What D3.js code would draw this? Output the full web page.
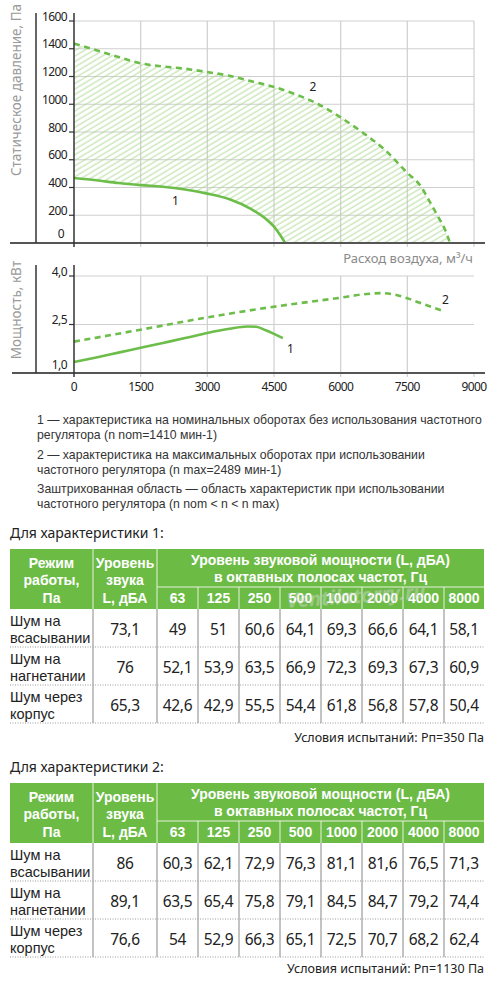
<!DOCTYPE html>
<html>
<head>
<meta charset="utf-8">
<script src="https://cdn.jsdelivr.net/npm/d3@7"></script>
<style>
  body { margin: 0; background: #fff; }
  svg { display: block; font-family: "Noto Sans", "Open Sans", sans-serif; }
</style>
</head>
<body>
<script>
// --- data ---
const flowTicks = [0, 1500, 3000, 4500, 6000, 7500, 9000];
const pressureTicks = [0, 200, 400, 600, 800, 1000, 1200, 1400, 1600];
const powerTicks = [1.0, 2.5, 4.0];

// [flow m3/h, static pressure Pa]
const pressureNominal = [[0, 468], [500, 452], [1000, 432], [1500, 417], [2000, 405], [2500, 385],
  [3000, 356], [3500, 315], [4000, 242], [4300, 178], [4500, 118], [4650, 52], [4750, 0]];
const pressureMax = [[0, 1437], [500, 1390], [1000, 1340], [1500, 1295], [2000, 1272], [2500, 1256],
  [3000, 1232], [3500, 1205], [4000, 1165], [4500, 1125], [5000, 1070], [5500, 1000], [6000, 905],
  [6500, 795], [7000, 670], [7500, 505], [7800, 410], [8000, 300], [8200, 185], [8350, 95], [8460, 0]];

// [flow m3/h, power kW]
const powerNominal = [[0, 1.34], [500, 1.48], [1000, 1.63], [1500, 1.78], [2000, 1.93], [2500, 2.08],
  [3000, 2.24], [3500, 2.37], [3900, 2.44], [4100, 2.43], [4300, 2.33], [4500, 2.21], [4700, 2.08]];
const powerMax = [[0, 1.97], [1500, 2.34], [3000, 2.72], [4500, 3.05], [6000, 3.33], [6500, 3.43],
  [6900, 3.47], [7200, 3.43], [7500, 3.31], [7900, 3.11], [8300, 2.92]];

const legendLines = [
  "1 — характеристика на номинальных оборотах без использования частотного",
  "регулятора (n nom=1410 мин-1)",
  "2 — характеристика на максимальных оборотах при использовании",
  "частотного регулятора (n max=2489 мин-1)",
  "Заштрихованная область — область характеристик при использовании",
  "частотного регулятора (n nom < n < n max)"
];

const octaveBands = ["63", "125", "250", "500", "1000", "2000", "4000", "8000"];
const noiseModes = [["Шум на", "всасывании"], ["Шум на", "нагнетании"], ["Шум через", "корпус"]];

const table1Total = [73.1, 76, 65.3];
const table1Bands = [
  [49, 51, 60.6, 64.1, 69.3, 66.6, 64.1, 58.1],
  [52.1, 53.9, 63.5, 66.9, 72.3, 69.3, 67.3, 60.9],
  [42.6, 42.9, 55.5, 54.4, 61.8, 56.8, 57.8, 50.4]
];
const table2Total = [86, 89.1, 76.6];
const table2Bands = [
  [60.3, 62.1, 72.9, 76.3, 81.1, 81.6, 76.5, 71.3],
  [63.5, 65.4, 75.8, 79.1, 84.5, 84.7, 79.2, 74.4],
  [54, 52.9, 66.3, 65.1, 72.5, 70.7, 68.2, 62.4]
];

// --- layout ---
const W = 500, H = 986;
const green = "#6cbb45";
const lineGreen = "#6dbd4a";
const gridColor = "#cfcfcf";
const axisColor = "#555";
const tightFont = "'Liberation Sans', Arial, sans-serif";

const svg = d3.select("body").append("svg")
  .attr("width", W)
  .attr("height", H);

const defs = svg.append("defs");
defs.append("pattern")
  .attr("id", "hatch")
  .attr("patternUnits", "userSpaceOnUse")
  .attr("width", 10)
  .attr("height", 4.7)
  .attr("patternTransform", "rotate(-31)")
  .append("line")
  .attr("x1", 0).attr("y1", 2)
  .attr("x2", 10).attr("y2", 2)
  .attr("stroke", "#a9d78f")
  .attr("stroke-width", 0.9);

const x = d3.scaleLinear().domain([0, 9000]).range([74, 474]);
const yP = d3.scaleLinear().domain([0, 1600]).range([243, 21]);
const yN = d3.scaleLinear().domain([1, 4]).range([373, 276]);

const fmt = v => String(v).replace(".", ",");

// ---------- pressure chart ----------
const pChart = svg.append("g");

pChart.selectAll(".hgrid")
  .data(pressureTicks.filter(d => d > 0))
  .enter().append("line")
  .attr("x1", x(0)).attr("x2", x(9000))
  .attr("y1", d => yP(d)).attr("y2", d => yP(d))
  .attr("stroke", gridColor).attr("stroke-width", 1.2);

pChart.selectAll(".vgrid")
  .data(flowTicks.filter(d => d > 0))
  .enter().append("line")
  .attr("x1", d => x(d)).attr("x2", d => x(d))
  .attr("y1", yP(1600)).attr("y2", yP(0) + 4)
  .attr("stroke", gridColor).attr("stroke-width", 1.2);

// hatched region between the two curves
const lower = pressureNominal.concat([[8460, 0]]);
const areaPts = pressureMax.map(d => [x(d[0]), yP(d[1])])
  .concat(lower.slice().reverse().map(d => [x(d[0]), yP(d[1])]));
pChart.append("path")
  .attr("d", "M" + areaPts.join("L") + "Z")
  .attr("fill", "url(#hatch)");

const lineP = d3.line().x(d => x(d[0])).y(d => yP(d[1])).curve(d3.curveMonotoneX);

pChart.append("path")
  .attr("d", lineP(pressureMax))
  .attr("fill", "none")
  .attr("stroke", lineGreen)
  .attr("stroke-width", 2.6)
  .attr("stroke-dasharray", "6,4.5");

pChart.append("path")
  .attr("d", lineP(pressureNominal))
  .attr("fill", "none")
  .attr("stroke", lineGreen)
  .attr("stroke-width", 2.6);

// axes
pChart.append("line")
  .attr("x1", 10).attr("x2", 485)
  .attr("y1", yP(0)).attr("y2", yP(0))
  .attr("stroke", axisColor).attr("stroke-width", 2);
pChart.append("line")
  .attr("x1", 36).attr("x2", 36)
  .attr("y1", 13).attr("y2", yP(0))
  .attr("stroke", "#333").attr("stroke-width", 1.5);
pChart.append("line")
  .attr("x1", x(0)).attr("x2", x(0))
  .attr("y1", 13).attr("y2", yP(0) + 4)
  .attr("stroke", "#333").attr("stroke-width", 1.5);

pChart.selectAll(".ptick")
  .data(pressureTicks.filter(d => d > 0))
  .enter().append("line")
  .attr("x1", x(0) - 5).attr("x2", x(0))
  .attr("y1", d => yP(d)).attr("y2", d => yP(d))
  .attr("stroke", "#333").attr("stroke-width", 1.2);

pChart.selectAll(".plabel")
  .data(pressureTicks)
  .enter().append("text")
  .attr("x", d => d === 0 ? 64 : 67)
  .attr("y", d => yP(d) - (d === 0 ? 5 : 0.5))
  .attr("text-anchor", "end")
  .attr("font-size", 12)
  .attr("letter-spacing", -0.6)
  .attr("fill", "#222")
  .text(d => d);

pChart.append("text")
  .attr("transform", "translate(21,90) rotate(-90)")
  .attr("text-anchor", "middle")
  .attr("font-size", 13.5)
  .attr("fill", "#9a9a9a")
  .text("Статическое давление, Па");

pChart.append("text")
  .attr("x", 172).attr("y", 205)
  .attr("font-size", 12).attr("fill", "#222")
  .text("1");
pChart.append("text")
  .attr("x", 313).attr("y", 91)
  .attr("font-size", 12).attr("fill", "#222")
  .attr("text-anchor", "middle")
  .text("2");

pChart.append("text")
  .attr("x", 473).attr("y", 263)
  .attr("text-anchor", "end")
  .attr("font-size", 13)
  .attr("fill", "#8a8a8a")
  .text("Расход воздуха, м³/ч");

// ---------- power chart ----------
const nChart = svg.append("g");

nChart.selectAll(".hgrid")
  .data(powerTicks.filter(d => d > 1))
  .enter().append("line")
  .attr("x1", x(0)).attr("x2", x(9000))
  .attr("y1", d => yN(d)).attr("y2", d => yN(d))
  .attr("stroke", gridColor).attr("stroke-width", 1.2);

nChart.selectAll(".vgrid")
  .data(flowTicks.filter(d => d > 0 && d < 9000))
  .enter().append("line")
  .attr("x1", d => x(d)).attr("x2", d => x(d))
  .attr("y1", yN(4)).attr("y2", yN(1) + 4)
  .attr("stroke", gridColor).attr("stroke-width", 1.2);

nChart.append("line")
  .attr("x1", x(9000)).attr("x2", x(9000))
  .attr("y1", yN(1)).attr("y2", yN(1) + 4)
  .attr("stroke", gridColor).attr("stroke-width", 1.2);

const lineN = d3.line().x(d => x(d[0])).y(d => yN(d[1])).curve(d3.curveMonotoneX);

nChart.append("path")
  .attr("d", lineN(powerMax))
  .attr("fill", "none")
  .attr("stroke", lineGreen)
  .attr("stroke-width", 2.6)
  .attr("stroke-dasharray", "6,4.5");

nChart.append("path")
  .attr("d", lineN(powerNominal))
  .attr("fill", "none")
  .attr("stroke", lineGreen)
  .attr("stroke-width", 2.6);

nChart.append("line")
  .attr("x1", 12).attr("x2", 485)
  .attr("y1", yN(1)).attr("y2", yN(1))
  .attr("stroke", axisColor).attr("stroke-width", 2);
nChart.append("line")
  .attr("x1", 36).attr("x2", 36)
  .attr("y1", 265).attr("y2", yN(1))
  .attr("stroke", "#333").attr("stroke-width", 1.5);
nChart.append("line")
  .attr("x1", x(0)).attr("x2", x(0))
  .attr("y1", 265).attr("y2", yN(1) + 4)
  .attr("stroke", "#333").attr("stroke-width", 1.5);

nChart.selectAll(".ntick")
  .data(powerTicks.filter(d => d > 1))
  .enter().append("line")
  .attr("x1", x(0) - 5).attr("x2", x(0))
  .attr("y1", d => yN(d)).attr("y2", d => yN(d))
  .attr("stroke", "#333").attr("stroke-width", 1.2);

nChart.selectAll(".nlabel")
  .data(powerTicks)
  .enter().append("text")
  .attr("x", 67)
  .attr("y", d => yN(d) - (d === 1 ? 4 : 0.5))
  .attr("text-anchor", "end")
  .attr("font-size", 12)
  .attr("letter-spacing", -0.6)
  .attr("fill", "#222")
  .text(d => d3.format(".1f")(d).replace(".", ","));

nChart.selectAll(".xlabel")
  .data(flowTicks)
  .enter().append("text")
  .attr("x", d => x(d))
  .attr("y", 391)
  .attr("text-anchor", "middle")
  .attr("font-size", 12)
  .attr("letter-spacing", -0.6)
  .attr("fill", "#222")
  .text(d => d);

nChart.append("text")
  .attr("transform", "translate(21,310) rotate(-90)")
  .attr("text-anchor", "middle")
  .attr("font-size", 13.5)
  .attr("fill", "#9a9a9a")
  .text("Мощность, кВт");

nChart.append("text")
  .attr("x", 287).attr("y", 353)
  .attr("font-size", 12).attr("fill", "#222")
  .text("1");
nChart.append("text")
  .attr("x", 442).attr("y", 304)
  .attr("font-size", 12).attr("fill", "#222")
  .text("2");

// ---------- legend text ----------
const legendY = [424, 439, 459, 474, 493, 508];
const legend = svg.selectAll(".legend")
  .data(legendLines)
  .enter().append("text")
  .attr("x", 37)
  .attr("y", (d, i) => legendY[i])
  .attr("font-family", tightFont)
  .attr("font-size", 12.8)
  .attr("fill", "#333")
  .text(d => d);

// fit the longest line to the width it has in the picture (37..482)
const longest = legend.nodes()[0].getComputedTextLength();
if (longest > 0) legend.attr("font-size", Math.min(12.8, 12.8 * 445 / longest));

// ---------- tables ----------
const colX = [10, 93, 157, 198, 239, 280, 321, 362, 403, 444, 484];

function drawTable(top0, title, totals, bands, note, noteY) {
  const g = svg.append("g");
  const hTop = top0, hMid = top0 + 38, hBot = top0 + 60;
  const rowH = 38;

  g.append("text")
    .attr("x", 10).attr("y", top0 - 11)
    .attr("font-size", 14).attr("fill", "#222")
    .text(title);

  g.append("rect")
    .attr("x", colX[0]).attr("y", hTop)
    .attr("width", colX[10] - colX[0]).attr("height", hBot - hTop)
    .attr("fill", green);

  // white separators inside the header
  [colX[1], colX[2]].forEach(cx => {
    g.append("line")
      .attr("x1", cx).attr("x2", cx)
      .attr("y1", hTop).attr("y2", hBot)
      .attr("stroke", "#e6f3de").attr("stroke-width", 1);
  });
  g.append("line")
    .attr("x1", colX[2]).attr("x2", colX[10])
    .attr("y1", hMid).attr("y2", hMid)
    .attr("stroke", "#e6f3de").attr("stroke-width", 1);
  colX.slice(3, 10).forEach(cx => {
    g.append("line")
      .attr("x1", cx).attr("x2", cx)
      .attr("y1", hMid).attr("y2", hBot)
      .attr("stroke", "#e6f3de").attr("stroke-width", 1);
  });

  const head = (tx, ty, s) => g.append("text")
    .attr("x", tx).attr("y", ty)
    .attr("text-anchor", "middle")
    .attr("font-family", tightFont)
    .attr("font-size", 14).attr("font-weight", "bold")
    .attr("fill", "#fff")
    .text(s);

  const c1 = (colX[0] + colX[1]) / 2, c2 = (colX[1] + colX[2]) / 2;
  head(c1, top0 + 19, "Режим");
  head(c1, top0 + 36, "работы,");
  head(c1, top0 + 54, "Па");
  head(c2, top0 + 19, "Уровень");
  head(c2, top0 + 36, "звука");
  head(c2, top0 + 54, "L, дБА");
  head((colX[2] + colX[10]) / 2, top0 + 16, "Уровень звуковой мощности (L, дБА)");
  head((colX[2] + colX[10]) / 2, top0 + 33, "в октавных полосах частот, Гц");
  octaveBands.forEach((b, i) => head((colX[i + 2] + colX[i + 3]) / 2, top0 + 54, b));

  // body
  const bodyTop = hBot;
  colX.slice(1, 10).forEach(cx => {
    g.append("line")
      .attr("x1", cx).attr("x2", cx)
      .attr("y1", bodyTop).attr("y2", bodyTop + rowH * 3)
      .attr("stroke", "#888").attr("stroke-width", 1);
  });

  noiseModes.forEach((m, r) => {
    const ry = bodyTop + r * rowH;
    g.append("line")
      .attr("x1", colX[0]).attr("x2", colX[10])
      .attr("y1", ry + rowH).attr("y2", ry + rowH)
      .attr("stroke", "#999").attr("stroke-width", 1)
      .attr("stroke-dasharray", "1,1.5");

    g.append("text")
      .attr("x", 10).attr("y", ry + 17)
      .attr("font-family", tightFont)
      .attr("font-size", 14.5)
      .attr("fill", "#222")
      .text(m[0]);
    g.append("text")
      .attr("x", 10).attr("y", ry + 34)
      .attr("font-family", tightFont)
      .attr("font-size", 14.5)
      .attr("fill", "#222")
      .text(m[1]);

    const vals = [totals[r]].concat(bands[r]);
    vals.forEach((v, i) => {
      g.append("text")
        .attr("x", (colX[i + 1] + colX[i + 2]) / 2)
        .attr("y", ry + 26)
        .attr("text-anchor", "middle")
        .attr("font-size", 15.5)
        .attr("letter-spacing", -0.3)
        .attr("fill", "#222")
        .text(fmt(v));
    });
  });

  g.append("text")
    .attr("x", 484).attr("y", noteY)
    .attr("text-anchor", "end")
    .attr("font-size", 12.5).attr("fill", "#222")
    .text(note);
  return g;
}

const t1 = drawTable(549, "Для характеристики 1:", table1Total, table1Bands,
  "Условия испытаний: Рп=350 Па", 742);
drawTable(783, "Для характеристики 2:", table2Total, table2Bands,
  "Условия испытаний: Рп=1130 Па", 973);

// watermark
t1.append("text")
  .attr("x", 356).attr("y", 603)
  .attr("text-anchor", "middle")
  .attr("font-size", 20)
  .attr("font-style", "italic")
  .attr("font-weight", "bold")
  .attr("fill", "#ffffff")
  .attr("fill-opacity", 0.3)
  .attr("stroke", "#aaaaaa")
  .attr("stroke-opacity", 0.45)
  .attr("stroke-width", 0.6)
  .attr("transform", "rotate(-4,356,597)")
  .text("Ventilatorry.ru");
</script>
</body>
</html>
